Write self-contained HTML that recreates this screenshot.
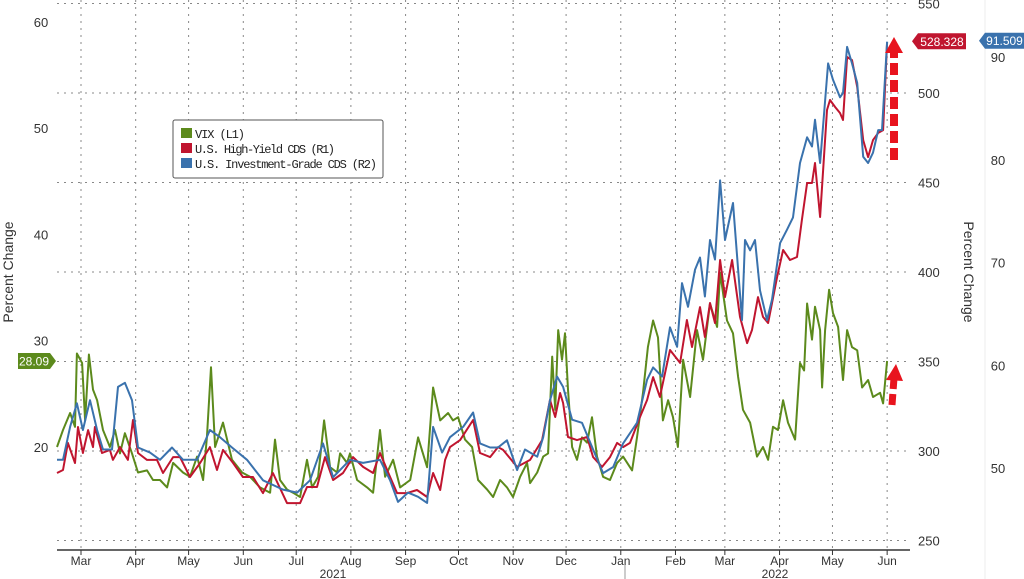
<!DOCTYPE html>
<html><head><meta charset="utf-8"><style>
html,body{margin:0;padding:0;background:#fff;width:1024px;height:579px;overflow:hidden}
svg{display:block;font-family:"Liberation Sans Narrow","Liberation Sans",sans-serif}
</style></head><body>
<svg id="chart" width="1024" height="579" viewBox="0 0 1024 579" xmlns="http://www.w3.org/2000/svg">
<g id="grid"></g>
<g id="axes"></g>
<g id="series"></g>
<g id="annot">
  <g fill="#e8141e" stroke="#e8141e">
    <line x1="894" y1="160" x2="894" y2="52" stroke-width="8" stroke-dasharray="12,5" fill="none"/>
    <polygon points="885,53 903,53 894,37" stroke="none"/>
  </g>
  <g fill="#e8141e" stroke="#e8141e">
    <line x1="892" y1="405" x2="894" y2="378" stroke-width="7" stroke-dasharray="11,5" fill="none"/>
    <polygon points="886,380 903,381 896,364" stroke="none"/>
  </g>
</g>
<g>
  <rect x="173" y="120" width="210" height="58" rx="2" fill="#fff" stroke="#555" stroke-width="1"/>
  <rect x="181" y="128" width="11" height="10" fill="#5c8a1c"/>
  <rect x="181" y="143" width="11" height="10" fill="#c0152f"/>
  <rect x="181" y="158" width="11" height="10" fill="#3a72ad"/>
  <text x="195" y="138" font-family="Liberation Mono, monospace" font-size="12" fill="#222" textLength="50">VIX (L1)</text>
  <text x="195" y="153" font-family="Liberation Mono, monospace" font-size="12" fill="#222" textLength="140">U.S. High-Yield CDS (R1)</text>
  <text x="195" y="168" font-family="Liberation Mono, monospace" font-size="12" fill="#222" textLength="182">U.S. Investment-Grade CDS (R2)</text>
</g>
<text transform="translate(13,272) rotate(-90)" text-anchor="middle" font-family="Liberation Sans, sans-serif" font-size="14" fill="#333">Percent Change</text>
<text transform="translate(964,272) rotate(90)" text-anchor="middle" font-family="Liberation Sans, sans-serif" font-size="14" fill="#333">Percent Change</text>
</svg>
<script>
const vixDays=[-13.6,-10.2,-6.2,-3.4,-2.3,0.6,2.3,4.5,6.8,9.1,12.5,16.4,19.3,22.1,24.9,28.9,32.3,37.4,40.8,44.8,48.8,52.2,57.8,61.8,65.8,69.2,71.4,73.7,76.0,80.5,85.6,91.3,95.8,101.5,107.2,110.0,112.8,116.8,120.2,124.2,128.1,131.0,134.4,137.8,141.2,145.2,146.9,150.8,152.5,156.5,162.2,165.6,169.5,172.4,176.9,180.9,186.6,191.1,196.2,199.6,203.6,208.1,210.9,213.8,217.7,221.7,225.1,230.2,233.6,237.6,241.5,244.9,248.9,252.9,254.6,258.6,262.0,264.8,267.1,268.8,270.5,272.7,274.4,276.1,278.4,281.2,284.0,286.9,289.7,292.5,296.0,299.9,303.9,307.3,312.4,315.2,318.6,321.4,324.3,327.1,329.9,332.8,335.6,338.4,341.3,345.3,349.2,352.6,356.6,360.6,362.3,366.2,369.6,372.5,375.3,379.3,383.2,386.6,389.5,392.3,395.1,398.0,400.8,404.8,407.6,409.9,411.6,414.4,416.1,419.0,420.1,421.8,424.1,426.3,429.2,432.0,434.3,437.1,440.0,442.8,446.2,449.0,453.0,454.7,457.0];
const vixValues=[20.0,21.6,23.2,21.9,28.8,27.9,22.5,28.7,25.4,24.4,21.6,20.0,21.6,19.4,21.3,19.4,17.6,17.8,16.9,16.9,16.2,18.5,17.6,17.2,19.1,16.9,20.9,27.5,20.0,22.3,18.8,17.6,17.2,16.2,15.7,20.7,16.9,16.0,15.7,15.3,18.8,16.2,17.2,22.5,18.1,17.6,19.4,18.5,19.4,16.9,16.2,15.7,21.6,17.2,18.8,16.2,16.9,20.9,18.1,25.6,22.5,23.2,22.5,22.8,20.7,20.0,16.9,16.0,15.3,16.9,16.2,15.3,17.2,18.5,16.6,17.6,19.1,19.4,28.5,23.5,31.0,28.2,30.7,25.4,20.0,18.8,20.9,20.4,22.8,19.1,17.2,16.9,18.5,19.1,17.8,20.9,25.1,29.4,31.9,30.3,22.5,24.4,22.8,20.0,28.2,24.7,31.0,28.2,33.5,31.3,36.4,31.9,30.7,26.6,23.5,22.3,19.1,20.0,18.8,21.9,21.6,24.4,22.3,20.7,27.9,27.2,33.5,30.1,33.2,31.0,25.6,31.0,34.8,32.6,31.3,26.3,31.0,29.4,29.1,25.6,26.3,24.7,25.1,24.1,28.09];
const hyDays=[-13.6,-10.2,-7.4,-3.4,-1.7,1.1,4.0,6.8,7.9,11.9,16.4,18.1,22.1,26.6,29.5,32.3,37.4,43.1,46.5,52.2,56.1,61.8,67.5,73.1,77.1,80.5,86.2,91.8,97.5,103.2,108.8,116.8,124.2,128.1,133.8,138.3,142.9,148.5,154.2,159.9,165.6,169.5,175.2,179.2,184.8,190.5,196.2,199.6,203.6,206.4,209.2,214.9,222.3,226.2,231.9,236.4,239.3,247.2,254.6,261.4,265.9,268.8,271.6,273.3,276.1,281.2,286.9,290.3,295.4,299.9,303.9,307.3,311.2,316.9,320.9,324.3,328.2,333.9,339.6,343.5,346.4,350.9,353.7,356.6,359.4,362.3,365.1,369.1,373.6,377.6,380.4,383.8,386.6,389.5,394.6,398.0,401.9,405.9,408.7,411.6,414.4,416.1,419.0,422.9,424.6,427.5,430.3,432.0,434.3,437.1,440.0,443.4,446.2,449.0,451.9,454.7,457.0];
const hyValues=[287.7,289.4,304.5,293.3,313.4,298.9,311.7,302.2,313.4,298.9,300.6,295.0,302.2,295.0,317.3,298.9,295.0,295.0,287.7,296.6,296.6,285.5,293.3,302.2,289.4,300.6,293.3,285.5,285.5,276.5,287.7,270.9,270.9,279.9,279.9,296.6,283.8,287.7,296.6,291.1,287.7,298.9,285.5,276.5,276.5,278.2,274.3,287.7,278.2,295.0,302.2,306.1,317.3,298.9,296.6,302.2,300.6,291.1,295.0,306.1,328.5,319.0,332.4,326.8,307.8,306.1,307.8,296.6,291.1,296.6,304.5,302.2,304.5,319.0,328.5,341.3,330.2,356.4,349.2,373.2,358.1,380.4,363.7,382.7,371.5,406.7,386.0,406.7,374.9,360.3,367.6,386.0,374.9,371.5,397.2,412.3,406.7,408.4,429.1,449.7,449.7,460.9,430.7,490.5,496.1,492.2,488.8,484.9,520.1,518.4,503.4,473.7,464.2,473.7,477.7,479.3,528.328];
const igDays=[-13.6,-10.2,-6.2,-2.3,1.1,5.1,9.1,12.5,17.6,21.0,24.9,28.9,32.3,39.1,44.8,51.6,57.8,65.8,73.1,78.8,85.6,94.1,103.2,114.5,122.5,129.8,137.2,142.9,152.5,159.9,169.5,175.2,179.7,185.4,191.1,196.2,199.6,204.7,209.2,216.6,222.3,226.2,231.9,236.4,241.5,247.2,251.7,258.6,262.0,265.9,269.9,273.3,278.4,284.0,290.3,296.0,301.7,307.3,312.4,315.2,320.9,324.3,329.4,333.9,337.9,340.7,344.1,348.1,350.9,353.7,356.6,359.4,362.3,365.1,369.6,374.7,376.4,379.3,382.1,384.9,388.9,391.7,396.3,400.2,403.6,407.6,411.6,414.4,416.1,419.0,423.5,426.3,430.3,432.0,434.3,437.1,440.0,443.4,446.2,449.0,451.9,454.1,457.0];
const igValues=[50.8,50.8,54.0,56.3,53.7,56.6,53.7,51.8,51.8,57.9,58.3,56.6,52.0,51.5,50.8,52.0,50.8,50.8,53.7,53.0,52.0,50.8,48.8,47.9,47.6,48.8,52.4,49.1,50.8,50.5,50.8,48.8,46.7,47.6,47.2,46.6,54.0,51.5,53.0,54.0,55.4,52.4,52.0,52.0,52.7,49.8,51.8,51.1,53.0,56.6,58.9,57.9,54.7,54.4,51.8,49.5,50.1,52.4,53.7,54.4,58.6,59.8,58.9,63.7,61.8,68.0,65.7,69.3,70.5,66.7,72.2,70.3,78.0,72.2,75.8,64.4,72.2,71.2,72.2,67.3,64.4,66.4,71.9,73.2,74.4,79.7,82.2,81.3,83.9,79.7,89.4,87.8,86.1,86.5,91.0,89.4,87.5,80.3,79.7,80.7,82.9,82.9,91.509];
const monthLabels=["Mar","Apr","May","Jun","Jul","Aug","Sep","Oct","Nov","Dec","Jan","Feb","Mar","Apr","May","Jun"];
const monthDays=[0,31,61,92,122,153,184,214,245,275,306,337,365,396,426,457];
const leftTicks=[20,30,40,50,60];
const r1Ticks=[250,300,350,400,450,500,550];
const r2Ticks=[50,60,70,80,90];

const NS="http://www.w3.org/2000/svg";
const X0=57,X1=906,AXY=550;
const xS=d=>81+d*1.764;
const yL=v=>447-(v-20)*10.63;
const yR1=v=>451-(v-300)*1.79;
const yR2=v=>468-(v-50)*10.27;
function mk(tag,attrs,parent,txt){const e=document.createElementNS(NS,tag);for(const k in attrs)e.setAttribute(k,attrs[k]);if(txt!==undefined)e.textContent=txt;parent.appendChild(e);return e;}
const grid=document.getElementById('grid'),axes=document.getElementById('axes'),series=document.getElementById('series');

r1Ticks.forEach(t=>{
  const y=yR1(t);
  const g=mk('line',{x1:X0,x2:X1,y1:y,y2:y,stroke:'#888','stroke-width':1,'stroke-dasharray':'2,5'},grid);
  
  
  const l=mk('text',{x:918,y:y+5,'font-size':13,fill:'#333'},axes,String(t));
  
  
});
monthDays.forEach((d,i)=>{
  const x=xS(d);
  const g=mk('line',{x1:x,x2:x,y1:0,y2:AXY,stroke:'#888','stroke-width':1,'stroke-dasharray':'2,5'},grid);
  
  
  mk('line',{x1:x,x2:x,y1:AXY,y2:AXY+5,stroke:'#333'},axes);
  const l=mk('text',{x:x,y:565,'font-size':12,fill:'#333','text-anchor':'middle'},axes,monthLabels[i]);
  
  
});
mk('line',{x1:X0,x2:910,y1:AXY,y2:AXY,stroke:'#333','stroke-width':1.5},axes);
mk('line',{x1:625,x2:625,y1:565,y2:579,stroke:'#999'},axes);
let yr=mk('text',{x:333,y:578,'font-size':12,fill:'#333','text-anchor':'middle'},axes,'2021');


yr=mk('text',{x:775,y:578,'font-size':12,fill:'#333','text-anchor':'middle'},axes,'2022');


leftTicks.forEach(t=>{
  const l=mk('text',{x:41,y:yL(t)+5,'font-size':13,fill:'#333','text-anchor':'middle'},axes,String(t));
  
  
});
r2Ticks.forEach(t=>{
  const l=mk('text',{x:998,y:yR2(t)+5,'font-size':13,fill:'#333','text-anchor':'middle'},axes,String(t));
  
  
});
mk('line',{x1:985,x2:985,y1:0,y2:579,stroke:'#eee'},axes);

function line(days,vals,ys,color,name){
  const d=days.map((dd,i)=>(i?'L':'M')+xS(dd).toFixed(1)+','+ys(vals[i]).toFixed(1)).join('');
  const p=mk('path',{d:d,fill:'none',stroke:color,'stroke-width':2,'stroke-linejoin':'round'},series);
  
  
}
line(vixDays,vixValues,yL,'#5c8a1c','vix-line');
line(hyDays,hyValues,yR1,'#c0152f','hy-cds-line');
line(igDays,igValues,yR2,'#3a72ad','ig-cds-line');

function tag(x,y,w,txt,color,name,left,fs){
  const g=mk('g',{},axes);
  
  
  if(left){mk('polygon',{points:`${x},${y-8} ${x+w},${y-8} ${x+w+6},${y} ${x+w},${y+8} ${x},${y+8}`,fill:color},g);}
  else{mk('polygon',{points:`${x},${y} ${x+6},${y-8} ${x+w},${y-8} ${x+w},${y+8} ${x+6},${y+8}`,fill:color},g);}
  mk('text',{x:left?x+w/2:x+6+(w-6)/2,y:y+4.5,'font-size':fs,fill:'#fff','text-anchor':'middle'},g,txt);
}
const lastHy=hyValues[hyValues.length-1],lastIg=igValues[igValues.length-1],lastVix=vixValues[vixValues.length-1];
tag(912,yR1(lastHy)-1,54,lastHy.toFixed(3),'#c0152f','hy-last-value-tag',false,12);
tag(979,yR2(lastIg)-1,45,lastIg.toFixed(3),'#3a72ad','ig-last-value-tag',false,12);
tag(18,yL(lastVix),32,lastVix.toFixed(2),'#5c8a1c','vix-last-value-tag',true,12);
</script>
</body></html>
